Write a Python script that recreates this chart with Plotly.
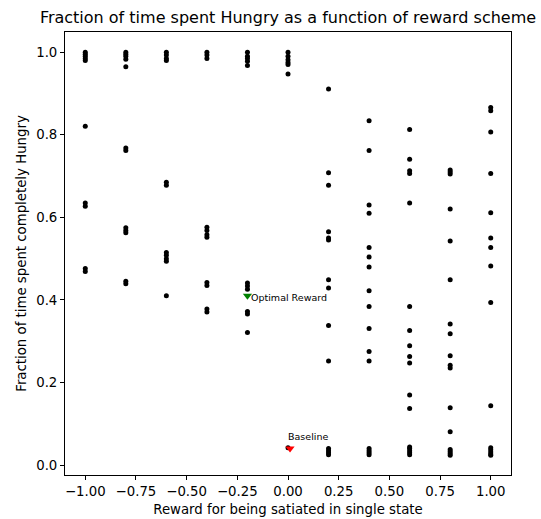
import plotly.graph_objects as go

# ---- data ----
rewards = [-1.0, -0.8, -0.6, -0.4, -0.2, 0.0, 0.2, 0.4, 0.6, 0.8, 1.0]

hungry_m10 = [1.0, 0.995, 0.99, 0.985, 0.98, 0.821, 0.635, 0.627, 0.476, 0.469]
hungry_m08 = [1.0, 0.995, 0.99, 0.983, 0.965, 0.768, 0.762, 0.575, 0.568, 0.563, 0.445, 0.439]
hungry_m06 = [1.0, 0.993, 0.985, 0.98, 0.685, 0.678, 0.515, 0.508, 0.5, 0.494, 0.41]
hungry_m04 = [1.0, 0.993, 0.985, 0.576, 0.568, 0.558, 0.552, 0.442, 0.435, 0.378, 0.371]
hungry_m02 = [1.0, 0.99, 0.985, 0.978, 0.968, 0.441, 0.434, 0.426, 0.372, 0.366, 0.321]
hungry_p00 = [1.0, 0.99, 0.982, 0.975, 0.97, 0.947, 0.042]
hungry_p02 = [0.911, 0.708, 0.678, 0.565, 0.55, 0.545, 0.449, 0.429, 0.338, 0.252,
              0.04, 0.035, 0.03, 0.025]
hungry_p04 = [0.834, 0.762, 0.630, 0.610, 0.527, 0.504, 0.480, 0.422, 0.384, 0.331,
              0.275, 0.252, 0.04, 0.035, 0.03, 0.025]
hungry_p06 = [0.813, 0.741, 0.713, 0.706, 0.635, 0.384, 0.326, 0.289, 0.263, 0.247,
              0.170, 0.137, 0.044, 0.04, 0.035, 0.03, 0.025]
hungry_p08 = [0.715, 0.71, 0.705, 0.620, 0.543, 0.449, 0.342, 0.318, 0.265, 0.242,
              0.235, 0.139, 0.081, 0.038, 0.033, 0.028, 0.024]
hungry_p10 = [0.866, 0.858, 0.807, 0.706, 0.611, 0.550, 0.527, 0.482, 0.394, 0.144,
              0.042, 0.037, 0.032, 0.027, 0.024]

hungry_by_reward = [hungry_m10, hungry_m08, hungry_m06, hungry_m04, hungry_m02, hungry_p00,
                    hungry_p02, hungry_p04, hungry_p06, hungry_p08, hungry_p10]

optimal_x = [-0.2]
optimal_y = [0.41]
baseline_x = [0.01]
baseline_y = [0.04]

x_tickvals = [-1.0, -0.75, -0.5, -0.25, 0.0, 0.25, 0.5, 0.75, 1.0]
x_ticktext = ["\u22121.00", "\u22120.75", "\u22120.50", "\u22120.25", "0.00", "0.25", "0.50", "0.75", "1.00"]
y_tickvals = [0.0, 0.2, 0.4, 0.6, 0.8, 1.0]
y_ticktext = ["0.0", "0.2", "0.4", "0.6", "0.8", "1.0"]

# ---- build point lists ----
xs, ys = [], []
for r, vals in zip(rewards, hungry_by_reward):
    for v in vals:
        xs.append(r)
        ys.append(v)

FONT = "DejaVu Sans"

fig = go.Figure()
fig.add_trace(go.Scatter(x=xs, y=ys, mode="markers",
                         marker=dict(color="black", size=5, symbol="circle", line=dict(width=0)),
                         showlegend=False, hoverinfo="x+y"))
fig.add_trace(go.Scatter(x=optimal_x, y=optimal_y, mode="markers",
                         marker=dict(color="#008000", size=8, symbol="triangle-down", line=dict(width=0)),
                         showlegend=False))
fig.add_trace(go.Scatter(x=baseline_x, y=baseline_y, mode="markers",
                         marker=dict(color="#ff0000", size=8, symbol="triangle-down", line=dict(width=0)),
                         showlegend=False))

fig.add_annotation(x=optimal_x[0] + 0.01, y=optimal_y[0] - 0.003, text="Optimal Reward",
                   xanchor="left", yanchor="middle", showarrow=False,
                   font=dict(family=FONT, size=9.5, color="black"))
fig.add_annotation(x=-0.011, y=0.07, text="Baseline",
                   xanchor="left", yanchor="middle", showarrow=False,
                   font=dict(family=FONT, size=9.5, color="black"))

axis_common = dict(showline=True, linecolor="black", linewidth=1, mirror=True,
                   ticks="outside", ticklen=4, tickwidth=1, tickcolor="black",
                   showgrid=False, zeroline=False, automargin=False,
                   tickfont=dict(family=FONT, size=13.3, color="black"))

fig.update_xaxes(range=[-1.1, 1.1], tickmode="array", tickvals=x_tickvals, ticktext=x_ticktext,
                 title=dict(text="Reward for being satiated in single state",
                            font=dict(family=FONT, size=13.3, color="black"), standoff=6),
                 **axis_common)
fig.update_yaxes(range=[-0.024, 1.049], tickmode="array", tickvals=y_tickvals, ticktext=y_ticktext,
                 title=dict(text="Fraction of time spent completely Hungry",
                            font=dict(family=FONT, size=13.3, color="black"), standoff=6),
                 **axis_common)

fig.update_layout(
    width=541, height=519,
    margin=dict(l=65, r=30, t=32, b=44, pad=0),
    paper_bgcolor="white", plot_bgcolor="white",
    font=dict(family=FONT, size=13.3, color="black"),
    title=dict(text="Fraction of time spent Hungry as a function of reward scheme",
               font=dict(family=FONT, size=16, color="black"),
               x=(65 + 511) / 2 / 541, xanchor="center",
               y=1 - 17 / 519, yanchor="middle", xref="container", yref="container"),
)

fig.write_html("out.html")
